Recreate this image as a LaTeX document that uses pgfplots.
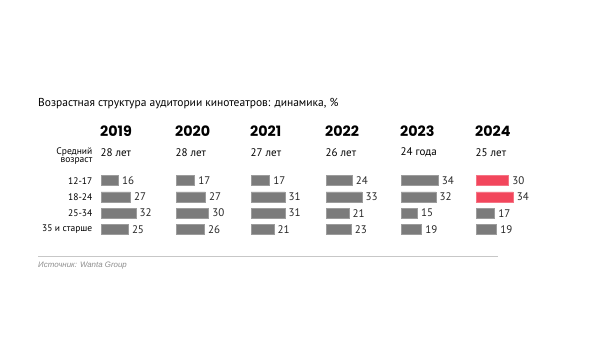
\documentclass[border=0pt]{standalone}
\usepackage{fontspec}
\setmainfont{PT Sans}
\newfontfamily\yearfont{Poppins}
\newfontfamily\srcfont{Liberation Sans}
\usepackage{pgfplots}
\pgfplotsset{compat=1.18}
\definecolor{bargray}{HTML}{7B7B7B}
\definecolor{barred}{HTML}{F2465C}
\pgfplotsset{
  yrs/.style={
    x=1.09bp, y=16.2bp, y dir=reverse,
    xmin=0, xmax=50, ymin=0.5, ymax=4.5,
    hide axis, clip=false,
    anchor=north west,
    /pgf/number format/assume math mode=true,
  },
  brs/.style={
    xbar, bar shift=0pt, bar width=10bp, draw=#1!75!white, fill=#1, line width=0.5bp,
    point meta=x, nodes near coords,
    every node near coord/.append style={anchor=west, font=\fontsize{11bp}{13bp}\selectfont, text=black!85, inner sep=1.5bp, xshift=2bp},
  },
}
\begin{document}
\begin{tikzpicture}
\path[use as bounding box] (0,0) rectangle (599bp,-364bp);
\node[anchor=west, inner sep=0] at (38bp,-104bp) {\fontsize{11.5bp}{13bp}\selectfont Возрастная структура аудитории кинотеатров: динамика, \%};
% row labels
\foreach \lab/\yy in {12-17/180.7, 18-24/196.7, 25-34/213.3, 35 и старше/229} {
  \node[anchor=east, inner sep=0] at (92.5bp,-\yy bp) {\fontsize{9.5bp}{11bp}\selectfont \lab};
}
\node[anchor=east, inner sep=0] at (92.5bp,-151.7bp) {\fontsize{9.5bp}{11bp}\selectfont Средний};
\node[anchor=east, inner sep=0] at (92.5bp,-160.7bp) {\fontsize{9.5bp}{11bp}\selectfont возраст};
% year headers and ages
\foreach \yr/\age [count=\i from 0] in {2019/28 лет, 2020/28 лет, 2021/27 лет, 2022/26 лет, 2023/24 года, 2024/25 лет} {
  \node[anchor=west, inner sep=0] at ({100bp+\i*75bp},-130.7bp) {\fontsize{14.3bp}{16bp}\selectfont\yearfont\bfseries \yr};
  \node[anchor=west, inner sep=0] at ({100.5bp+\i*75bp},-152.7bp) {\fontsize{11bp}{13bp}\selectfont \age};
}
\begin{axis}[yrs, at={(101bp,-172.6bp)}]
\addplot[brs=bargray] coordinates {(16,1) (27,2) (32,3) (25,4)};
\end{axis}
\begin{axis}[yrs, at={(176bp,-172.6bp)}]
\addplot[brs=bargray] coordinates {(17,1) (27,2) (30,3) (26,4)};
\end{axis}
\begin{axis}[yrs, at={(251bp,-172.6bp)}]
\addplot[brs=bargray] coordinates {(17,1) (31,2) (31,3) (21,4)};
\end{axis}
\begin{axis}[yrs, at={(326bp,-172.6bp)}]
\addplot[brs=bargray] coordinates {(24,1) (33,2) (21,3) (23,4)};
\end{axis}
\begin{axis}[yrs, at={(401bp,-172.6bp)}]
\addplot[brs=bargray] coordinates {(34,1) (32,2) (15,3) (19,4)};
\end{axis}
\begin{axis}[yrs, at={(476bp,-172.6bp)}]
\addplot[brs=barred] coordinates {(30,1) (34,2)};
\addplot[brs=bargray] coordinates {(17,3) (19,4)};
\end{axis}
\draw[color=black!22, line width=0.8bp] (38bp,-256.7bp) -- (498bp,-256.7bp);
\node[anchor=west, inner sep=0] at (38bp,-265.5bp) {\fontsize{7.9bp}{9bp}\selectfont\srcfont\itshape\color{black!45} Источник: Wanta Group};
\end{tikzpicture}
\end{document}
